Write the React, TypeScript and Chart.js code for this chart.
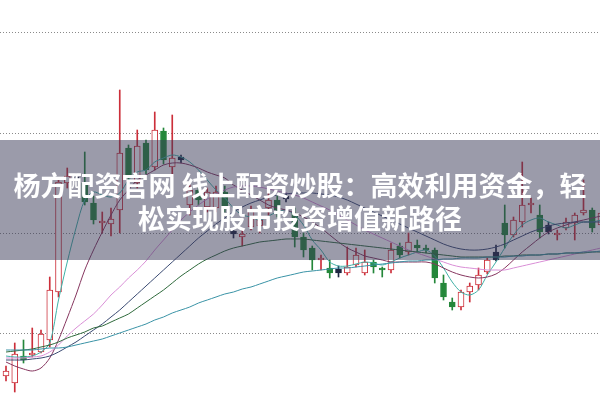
import React, { useEffect, useRef } from "react";
import { Chart, registerables } from "chart.js";

Chart.register(...registerables);

// candle values (price units; gridlines at 10, 20, 30, 40)
const opens = [5.7, 5.0, 7.7, 7.8, 8.1, 9.3, 14.1, 25.0, 25.6, 25.0, 23.0, 21.0, 20.9, 22.3, 28.5, 25.0, 29.0, 26.6, 30.2, 26.6, 27.6, 22.8, 24.3, 22.6, 22.5, 24.1, 20.2, 19.6, 20.6, 20.7, 22.5, 23.3, 23.7, 22.0, 19.6, 18.5, 17.3, 16.5, 16.4, 16.0, 16.8, 16.0, 17.1, 16.5, 16.3, 18.7, 18.1, 18.8, 18.5, 18.3, 15.0, 13.1, 12.6, 14.1, 14.8, 16.1, 18.1, 21.0, 19.8, 21.1, 22.8, 21.8, 20.8, 19.8, 20.5, 21.0, 22.0, 22.3, 20.8];
const closes = [6.2, 7.9, 7.3, 8.0, 9.9, 14.3, 25.1, 25.7, 25.3, 23.1, 21.3, 21.2, 21.4, 28.0, 25.8, 28.7, 26.3, 30.3, 27.3, 27.5, 27.3, 24.3, 23.3, 24.1, 24.1, 22.5, 19.9, 19.9, 22.3, 21.3, 23.3, 22.3, 23.4, 19.6, 18.3, 17.3, 17.5, 16.0, 16.0, 16.6, 17.8, 17.1, 16.6, 16.3, 18.3, 17.8, 19.1, 18.5, 18.3, 15.5, 13.6, 12.6, 14.1, 14.7, 15.8, 17.3, 17.3, 19.8, 21.3, 22.8, 23.0, 20.1, 20.1, 20.0, 21.1, 21.8, 22.3, 20.5, 22.0];
const highs = [6.7, 9.0, 9.3, 10.5, 10.3, 15.6, 25.5, 26.5, 25.9, 28.1, 23.7, 22.1, 22.5, 34.3, 28.8, 30.3, 29.3, 32.1, 30.5, 31.8, 27.8, 24.8, 24.7, 24.5, 24.7, 24.7, 20.5, 20.3, 22.7, 21.8, 24.1, 23.8, 24.0, 22.5, 20.0, 18.7, 17.8, 17.3, 16.7, 18.6, 18.5, 18.3, 17.3, 16.6, 19.0, 19.0, 20.0, 19.3, 18.8, 18.5, 15.8, 13.5, 14.3, 15.0, 16.5, 17.5, 18.8, 22.8, 21.6, 27.1, 23.5, 22.8, 21.1, 20.3, 21.5, 22.0, 25.3, 22.5, 22.3];
const lows = [5.2, 4.1, 7.0, 7.6, 8.0, 8.6, 13.6, 24.5, 25.1, 22.8, 20.9, 20.0, 19.7, 20.0, 25.3, 24.5, 25.9, 26.3, 26.9, 25.6, 27.0, 21.8, 22.8, 22.1, 22.1, 22.1, 19.5, 18.7, 20.3, 20.0, 21.6, 21.6, 23.1, 18.6, 17.6, 16.3, 16.3, 15.5, 15.6, 15.8, 16.6, 15.8, 16.0, 15.6, 16.0, 17.5, 17.8, 18.1, 18.0, 15.0, 13.3, 12.3, 12.3, 13.1, 14.3, 15.9, 17.2, 18.5, 19.6, 20.6, 22.0, 19.5, 19.9, 19.3, 20.3, 19.3, 21.8, 20.1, 20.5];
// candles drawn as dark signal bars
const darkBars = [8, 20, 26, 32, 38, 56, 62];

// moving averages
const ma5 = [7.7, 7.6, 7.6, 7.7, 8.1, 9.0, 13.3, 17.1, 20.5, 23.3, 24.1, 23.8, 23.6, 24.0, 25.3, 26.1, 26.3, 27.1, 27.5, 27.8, 27.6, 27.1, 26.3, 25.3, 24.3, 23.5, 22.5, 21.8, 21.6, 21.3, 21.7, 22.1, 22.3, 21.8, 20.8, 19.3, 18.3, 17.1, 16.7, 16.7, 16.9, 17.1, 17.0, 16.8, 17.1, 17.5, 17.8, 18.1, 18.3, 17.7, 16.5, 15.1, 14.1, 13.8, 14.3, 15.8, 17.1, 18.5, 19.8, 20.8, 21.3, 21.5, 21.1, 20.8, 20.5, 20.8, 21.1, 21.1, 21.3];
const ma10 = [7.1, 6.7, 6.4, 6.2, 6.5, 7.5, 9.3, 11.5, 13.8, 16.3, 18.3, 20.1, 21.8, 23.3, 24.3, 25.3, 25.8, 26.3, 26.8, 27.0, 27.0, 26.8, 26.5, 26.1, 25.8, 25.5, 24.8, 24.3, 23.8, 23.3, 22.8, 22.5, 22.3, 22.0, 21.6, 21.1, 20.5, 19.8, 19.1, 18.5, 18.1, 17.7, 17.5, 17.3, 17.1, 17.1, 17.1, 17.1, 17.1, 16.9, 16.5, 16.1, 15.8, 15.6, 15.5, 15.6, 15.9, 16.5, 17.3, 18.1, 18.8, 19.5, 20.1, 20.5, 20.8, 21.1, 21.3, 21.5, 21.7];
const ma20 = [7.5, 7.5, 7.5, 7.6, 7.7, 8.1, 8.8, 9.7, 10.5, 11.2, 11.9, 12.8, 13.8, 14.6, 15.5, 16.3, 17.2, 18.3, 19.3, 20.3, 21.3, 22.1, 22.8, 23.4, 23.9, 24.3, 24.6, 24.7, 24.7, 24.6, 24.4, 24.2, 24.0, 23.8, 23.5, 23.1, 22.7, 22.3, 21.8, 21.3, 20.8, 20.3, 19.9, 19.5, 19.1, 18.7, 18.3, 18.0, 17.7, 17.4, 17.1, 16.8, 16.6, 16.5, 16.4, 16.3, 16.3, 16.3, 16.5, 16.7, 16.9, 17.1, 17.3, 17.5, 17.7, 17.9, 18.1, 18.3, 18.5];
const ma30 = [7.3, 7.3, 7.3, 7.4, 7.5, 7.7, 8.1, 8.6, 9.1, 9.7, 10.3, 10.9, 11.6, 12.3, 13.1, 13.9, 14.7, 15.5, 16.3, 17.1, 17.9, 18.7, 19.5, 20.2, 20.9, 21.5, 22.1, 22.6, 23.0, 23.3, 23.6, 23.8, 23.9, 24.0, 24.0, 24.0, 23.9, 23.8, 23.6, 23.3, 22.9, 22.5, 22.1, 21.7, 21.3, 20.9, 20.5, 20.1, 19.7, 19.3, 18.9, 18.6, 18.4, 18.3, 18.3, 18.4, 18.6, 18.9, 19.3, 19.7, 20.1, 20.4, 20.7, 20.9, 21.0, 21.1, 21.1, 21.1, 21.1];
const ma60 = [8.1, 8.2, 8.3, 8.4, 8.6, 8.8, 9.1, 9.5, 9.8, 10.1, 10.5, 10.7, 11.1, 11.5, 11.9, 12.5, 13.1, 13.7, 14.3, 15.0, 15.7, 16.3, 16.9, 17.4, 17.8, 18.2, 18.5, 18.7, 18.9, 19.1, 19.2, 19.3, 19.4, 19.4, 19.4, 19.3, 19.2, 19.1, 19.0, 18.9, 18.8, 18.7, 18.6, 18.5, 18.4, 18.3, 18.2, 18.1, 18.0, 17.9, 17.8, 17.7, 17.6, 17.6, 17.6, 17.6, 17.6, 17.7, 17.7, 17.8, 17.8, 17.8, 17.9, 17.9, 18.0, 18.0, 18.0, 18.1, 18.1];
const ma120 = [8.3, 8.3, 8.3, 8.3, 8.4, 8.5, 8.5, 8.6, 8.8, 9.0, 9.2, 9.4, 9.7, 10.0, 10.3, 10.6, 10.9, 11.3, 11.6, 12.0, 12.3, 12.6, 13.0, 13.3, 13.6, 13.9, 14.1, 14.4, 14.6, 14.9, 15.2, 15.5, 15.7, 15.9, 16.1, 16.2, 16.3, 16.4, 16.5, 16.5, 16.6, 16.7, 16.8, 16.9, 17.0, 17.1, 17.2, 17.2, 17.3, 17.3, 17.4, 17.4, 17.5, 17.5, 17.5, 17.6, 17.6, 17.6, 17.7, 17.7, 17.8, 17.8, 17.9, 17.9, 18.0, 18.0, 18.1, 18.1, 18.2];

const gridValues = [10, 20, 30, 40];
const titleLine1 = "杨方配资官网 线上配资炒股：高效利用资金，轻";
const titleLine2 = "松实现股市投资增值新路径";

const RED = "#cc2f3a";
const GREEN = "#24873a";
const DARK = "#1e2540";

export default function App() {
  const ref = useRef<HTMLCanvasElement>(null);

  useEffect(() => {
    if (!ref.current) return;
    const idx = opens.map((_, i) => i);
    const kind = (i: number) =>
      darkBars.includes(i) ? "dark" : closes[i] >= opens[i] ? "up" : "down";
    const lineColor = (i: number) =>
      kind(i) === "dark" ? DARK : kind(i) === "up" ? RED : GREEN;

    const maLine = (data: number[], color: string) => ({
      type: "line" as const,
      data: data.map((v, i) => ({ x: i, y: v })),
      borderColor: color,
      borderWidth: 1,
      pointRadius: 0,
      tension: 0.3,
      order: 0,
    });

    const chart = new Chart(ref.current, {
      type: "bar",
      data: {
        datasets: [
          maLine(ma120, "#3a93a6"),
          maLine(ma60, "#2f6a3c"),
          maLine(ma30, "#3a4a72"),
          maLine(ma20, "#d98ed6"),
          maLine(ma10, "#86365f"),
          maLine(ma5, "#3fb0a6"),
          {
            type: "bar" as const,
            data: idx.map((i) => ({ x: i, y: [opens[i], closes[i]] })) as any,
            backgroundColor: idx.map((i) =>
              kind(i) === "up" ? "#ffffff" : lineColor(i)
            ),
            borderColor: idx.map((i) => lineColor(i)),
            borderWidth: 1,
            borderSkipped: false,
            barThickness: 6,
            grouped: false,
            order: 1,
          },
          {
            type: "bar" as const,
            data: idx.map((i) => ({ x: i, y: [lows[i], highs[i]] })) as any,
            backgroundColor: idx.map((i) => lineColor(i)),
            borderWidth: 0,
            barThickness: 1,
            grouped: false,
            order: 2,
          },
        ],
      },
      options: {
        animation: false,
        responsive: false,
        maintainAspectRatio: false,
        layout: { padding: 0 },
        plugins: { legend: { display: false }, tooltip: { enabled: false } },
        scales: {
          x: {
            type: "linear",
            min: -0.686,
            max: 67.886,
            offset: false,
            display: false,
          },
          y: {
            min: 3.3,
            max: 43.3,
            afterBuildTicks: (axis: any) => {
              axis.ticks = gridValues.map((v) => ({ value: v }));
            },
            ticks: { display: false },
            grid: { color: "#8a8a8a", drawTicks: false, lineWidth: 1 },
            border: { display: false, dash: [1, 2] },
          },
        },
      },
    });
    return () => chart.destroy();
  }, []);

  return (
    <div style={{ position: "fixed", left: 0, top: 0, width: 600, height: 400, background: "#ffffff" }}>
      <canvas ref={ref} width={600} height={400} style={{ display: "block" }} />
      <div
        style={{
          position: "absolute",
          left: 0,
          top: 140,
          width: 600,
          height: 120,
          background: "rgba(55,55,85,0.5)",
          color: "#ffffff",
          fontFamily: '"Noto Sans CJK SC", "Noto Sans", sans-serif',
          fontWeight: 700,
          fontSize: 27,
          lineHeight: "33px",
          textAlign: "center",
          boxSizing: "border-box",
          paddingTop: 28,
          whiteSpace: "nowrap",
        }}
      >
        <div>{titleLine1}</div>
        <div>{titleLine2}</div>
      </div>
    </div>
  );
}
